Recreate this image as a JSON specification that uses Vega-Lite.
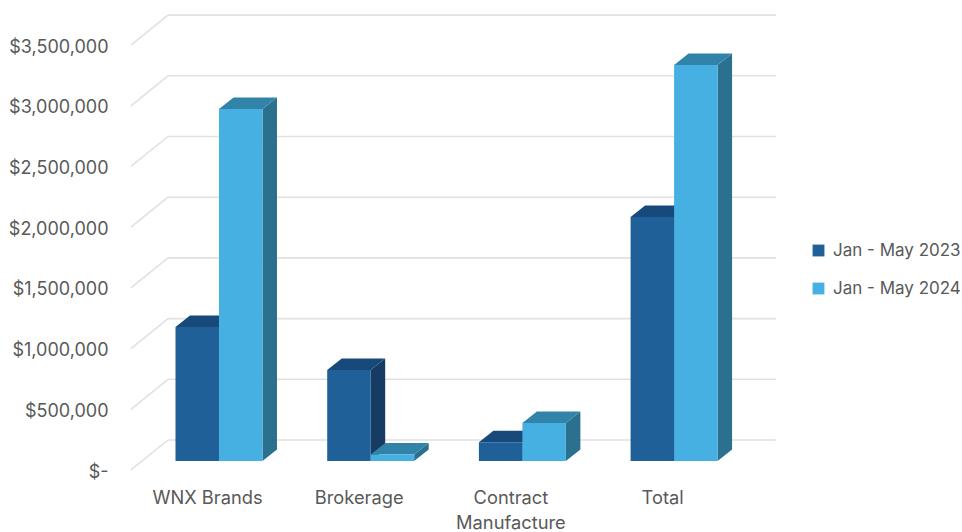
{
"$schema":"https://vega.github.io/schema/vega-lite/v6.json",
"width":962,"height":532,"padding":0,"autosize":{"type":"none"},
"background":"white",
"config":{"view":{"stroke":null},"font":"Inter","text":{"font":"Inter"}},
"datasets":{
"bars":[
{"category":"WNX Brands","series":"Jan - May 2023","value":1104000},
{"category":"WNX Brands","series":"Jan - May 2024","value":2900000},
{"category":"Brokerage","series":"Jan - May 2023","value":750000},
{"category":"Brokerage","series":"Jan - May 2024","value":53000},
{"category":"Contract Manufacture","series":"Jan - May 2023","value":155000},
{"category":"Contract Manufacture","series":"Jan - May 2024","value":313000},
{"category":"Total","series":"Jan - May 2023","value":2010000},
{"category":"Total","series":"Jan - May 2024","value":3262000}],
"ticks":[{"tick":0},{"tick":500000},{"tick":1000000},{"tick":1500000},{"tick":2000000},{"tick":2500000},{"tick":3000000},{"tick":3500000}]
},
"layer":[
{"data":{"name":"ticks"},
 "transform":[{"calculate":"datum.tick+173000","as":"wall"},{"calculate":"-0.2571","as":"a"},{"calculate":"3.7508","as":"b"}],
 "mark":{"type":"rule","color":"#E1E1E1","strokeWidth":1.6},
 "encoding":{
  "x":{"field":"a","type":"quantitative","title":null,"scale":{"domain":[-1.3645,4.977],"range":[0,962],"nice":false,"zero":false},
   "axis":{"values":[0,1,2,3],"grid":false,"ticks":false,"domain":false,"orient":"bottom","offset":-43,"labelPadding":0,"labelFontSize":18.3,"labelColor":"#595959","labelFont":"Inter","labelLineHeight":25,"labelAlign":"center","labelBaseline":"top","labelFlush":false,"labelOverlap":false,
   "labelExpr":"datum.value==0?'WNX Brands':datum.value==1?'Brokerage':datum.value==2?['Contract','Manufacture']:'Total'"}},
  "x2":{"field":"b"},
  "y":{"field":"wall","type":"quantitative","title":null,"scale":{"domain":[-584843,3797364],"range":[532,0],"nice":false,"zero":false},
   "axis":{"values":[0,500000,1000000,1500000,2000000,2500000,3000000,3500000],"grid":false,"ticks":false,"domain":false,"orient":"left","offset":-108,"labelPadding":0,"labelOffset":11,"labelFontSize":18,"labelColor":"#595959","labelFont":"Inter","labelOverlap":false,"labelFlush":false,
   "labelExpr":"datum.value==0?'$-':format(datum.value,'$,.0f')",
   "encoding":{"labels":{"update":{"dx":{"signal":"datum.value==0?-8:0"}}}}}}
 }},
{"data":{"name":"ticks"},
 "transform":[{"calculate":"datum.tick+173000","as":"wall"},{"calculate":"datum.tick-74000","as":"front"},{"calculate":"-0.2571","as":"a"},{"calculate":"-0.501","as":"b"}],
 "mark":{"type":"rule","color":"#E1E1E1","strokeWidth":1.6},
 "encoding":{"x":{"field":"a","type":"quantitative","title":null},"x2":{"field":"b"},"y":{"field":"wall","type":"quantitative","title":null},"y2":{"field":"front"}}},
{"data":{"name":"bars"},
 "transform":[{"filter":"datum.series=='Jan - May 2023'"},{"calculate":"indexof(['WNX Brands','Brokerage','Contract Manufacture','Total'],datum.category)-0.2076","as":"x0"},{"calculate":"[0,1]","as":"k"},{"flatten":["k"]},{"calculate":"datum.x0+0.2867+datum.k*0.0956","as":"sx"},{"calculate":"datum.value+datum.k*94700","as":"sy"},{"calculate":"datum.k*94700","as":"sy2"}],
 "mark":{"type":"area","color":"#163C63"},
 "encoding":{"x":{"field":"sx","type":"quantitative","title":null},"y":{"field":"sy","type":"quantitative","title":null},"y2":{"field":"sy2"},"detail":{"field":"category"}}},
{"data":{"name":"bars"},
 "transform":[{"filter":"datum.series=='Jan - May 2024'"},{"calculate":"indexof(['WNX Brands','Brokerage','Contract Manufacture','Total'],datum.category)-0.2076+0.2867","as":"x0"},{"calculate":"[0,1]","as":"k"},{"flatten":["k"]},{"calculate":"datum.x0+0.2867+datum.k*0.0956","as":"sx"},{"calculate":"datum.value+datum.k*94700","as":"sy"},{"calculate":"datum.k*94700","as":"sy2"}],
 "mark":{"type":"area","color":"#2B718F"},
 "encoding":{"x":{"field":"sx","type":"quantitative","title":null},"y":{"field":"sy","type":"quantitative","title":null},"y2":{"field":"sy2"},"detail":{"field":"category"}}},
{"data":{"name":"bars"},
 "transform":[{"filter":"datum.series=='Jan - May 2023'"},{"calculate":"indexof(['WNX Brands','Brokerage','Contract Manufacture','Total'],datum.category)-0.2076","as":"x0"},{"calculate":"[0,1,2,3]","as":"k"},{"flatten":["k"]},{"calculate":"datum.x0+[0,0.0956,0.2867,0.3823][datum.k]","as":"sx"},{"calculate":"datum.value+(datum.k==3?94700:0)","as":"sy"},{"calculate":"datum.value+(datum.k==0?0:94700)","as":"sy2"}],
 "mark":{"type":"area","color":"#174A7A"},
 "encoding":{"x":{"field":"sx","type":"quantitative","title":null},"y":{"field":"sy","type":"quantitative","title":null},"y2":{"field":"sy2"},"detail":{"field":"category"}}},
{"data":{"name":"bars"},
 "transform":[{"filter":"datum.series=='Jan - May 2024'"},{"calculate":"indexof(['WNX Brands','Brokerage','Contract Manufacture','Total'],datum.category)-0.2076+0.2867","as":"x0"},{"calculate":"[0,1,2,3]","as":"k"},{"flatten":["k"]},{"calculate":"datum.x0+[0,0.0956,0.2867,0.3823][datum.k]","as":"sx"},{"calculate":"datum.value+(datum.k==3?94700:0)","as":"sy"},{"calculate":"datum.value+(datum.k==0?0:94700)","as":"sy2"}],
 "mark":{"type":"area","color":"#3183AA"},
 "encoding":{"x":{"field":"sx","type":"quantitative","title":null},"y":{"field":"sy","type":"quantitative","title":null},"y2":{"field":"sy2"},"detail":{"field":"category"}}},
{"data":{"name":"bars"},
 "transform":[{"calculate":"indexof(['WNX Brands','Brokerage','Contract Manufacture','Total'],datum.category)-0.2076+(datum.series=='Jan - May 2023'?0:0.2867)","as":"x0"},{"calculate":"datum.x0+0.2867","as":"x1"},{"calculate":"0","as":"base"}],
 "mark":{"type":"bar"},
 "encoding":{"x":{"field":"x0","type":"quantitative","title":null},"x2":{"field":"x1"},"y":{"field":"value","type":"quantitative","title":null},"y2":{"field":"base"},
  "color":{"field":"series","type":"nominal","scale":{"domain":["Jan - May 2023","Jan - May 2024"],"range":["#1F6098","#45B0E1"]},
   "legend":{"title":null,"orient":"none","legendX":810,"legendY":242,"padding":0,"symbolType":"square","symbolSize":140,"symbolStrokeWidth":0,"labelFontSize":17,"labelColor":"#595959","labelFont":"Inter","labelOffset":6,"rowPadding":20,"labelLimit":200}}}}
]
}
